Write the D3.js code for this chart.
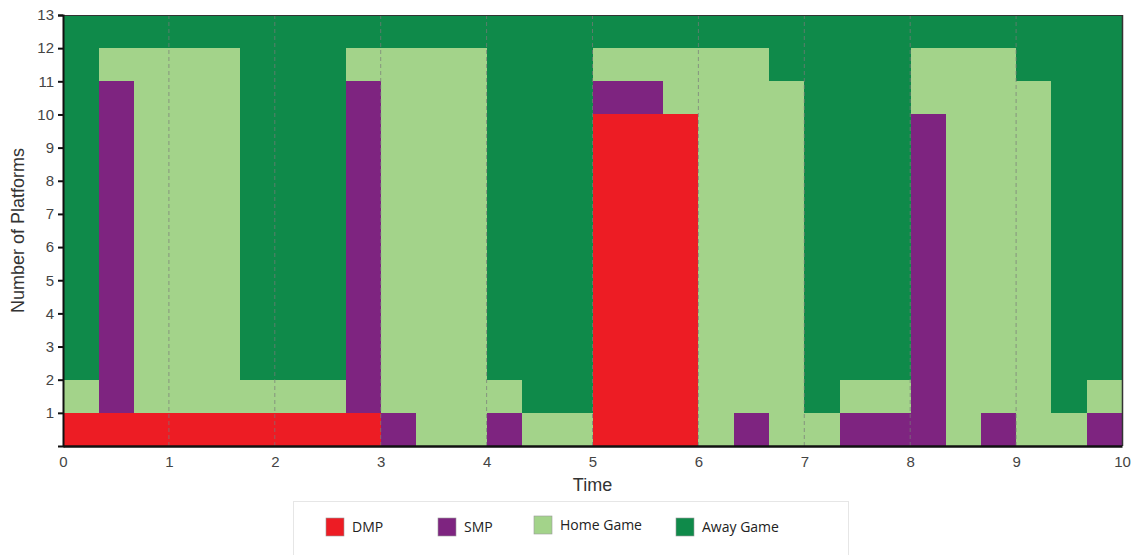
<!DOCTYPE html>
<html>
<head>
<meta charset="utf-8">
<script src="https://cdn.jsdelivr.net/npm/d3@7"></script>
<style>
  html, body { margin: 0; padding: 0; background: #fff; }
  svg { display: block; }
</style>
</head>
<body>
<svg id="chart" width="1136" height="555"></svg>
<script>
// Platform allocation per time slot (each slot is 1/3 of a time unit)
const slotsPerUnit = 3;
const dmp  = [1,1,1,1,1,1,1,1,1,0, 0,0,0,0,0,10,10,10,0,0, 0,0,0,0,0,0,0,0,0,0];
const smp  = [0,10,0,0,0,0,0,0,10,1, 0,0,1,0,0,1,1,0,0,1, 0,0,1,1,10,0,1,0,0,1];
const home = [1,1,11,11,11,1,1,1,1,11, 12,12,1,1,1,1,1,2,12,11, 11,1,1,1,2,12,11,11,1,1];
const totalPlatforms = 13;
const away = dmp.map((d, i) => totalPlatforms - d - smp[i] - home[i]);

const seriesNames = ["DMP", "SMP", "Home Game", "Away Game"];
const seriesColors = ["#ED1C24", "#7E2480", "#A3D38A", "#0F8A4A"];
const xTicks = [0,1,2,3,4,5,6,7,8,9,10];
const yTicks = [1,2,3,4,5,6,7,8,9,10,11,12,13];

const rows = dmp.map((d, i) => ({
  slot: i,
  "DMP": d, "SMP": smp[i], "Home Game": home[i], "Away Game": away[i]
}));

const svg = d3.select("#chart");
const margin = { left: 63, right: 1136 - 1122, top: 15, bottom: 555 - 446 };
const W = 1136 - margin.left - margin.right;
const H = 555 - margin.top - margin.bottom;

const x = d3.scaleLinear().domain([0, 10]).range([0, W]);
const y = d3.scaleLinear().domain([0, 13]).range([H, 0]);

const g = svg.append("g").attr("transform", `translate(${margin.left},${margin.top})`);

const stack = d3.stack().keys(seriesNames)(rows);

g.selectAll("g.layer")
  .data(stack)
  .join("g")
  .attr("class", "layer")
  .attr("fill", (d, i) => seriesColors[i])
  .selectAll("rect")
  .data(d => d)
  .join("rect")
  .attr("x", d => x(d.data.slot / slotsPerUnit))
  .attr("width", d => x((d.data.slot + 1) / slotsPerUnit) - x(d.data.slot / slotsPerUnit) + 0.5)
  .attr("y", d => y(d[1]))
  .attr("height", d => y(d[0]) - y(d[1]))
  .attr("shape-rendering", "crispEdges");

// dashed vertical guides at whole time units
g.selectAll("line.vgrid")
  .data(xTicks.filter(t => t > 0 && t < 10))
  .join("line")
  .attr("class", "vgrid")
  .attr("x1", d => x(d)).attr("x2", d => x(d))
  .attr("y1", 0).attr("y2", H)
  .attr("stroke", "#7a7a7a")
  .attr("stroke-width", 1)
  .attr("stroke-dasharray", "4,3")
  .attr("opacity", 0.7);

// frame: top and right
g.append("line").attr("x1", 0).attr("x2", W).attr("y1", 0.5).attr("y2", 0.5)
  .attr("stroke", "#333").attr("stroke-width", 1);
g.append("line").attr("x1", W + 0.5).attr("x2", W + 0.5).attr("y1", 0).attr("y2", H)
  .attr("stroke", "#333").attr("stroke-width", 1.5);

// y axis
const yAxis = g.append("g")
  .call(d3.axisLeft(y).tickValues(yTicks).tickSize(5).tickPadding(4));
yAxis.select(".domain").attr("stroke", "#111").attr("stroke-width", 2);
yAxis.selectAll(".tick line").attr("stroke", "#111").attr("stroke-width", 2);
yAxis.selectAll("text")
  .attr("font-family", "Liberation Sans, Arial, sans-serif")
  .attr("font-size", 15).attr("fill", "#444");

// x axis
const xAxis = g.append("g")
  .attr("transform", `translate(0,${H})`)
  .call(d3.axisBottom(x).tickValues(xTicks).tickSize(0).tickPadding(10));
xAxis.select(".domain").attr("stroke", "#111").attr("stroke-width", 2.5);
xAxis.selectAll("text")
  .attr("font-family", "Liberation Sans, Arial, sans-serif")
  .attr("font-size", 15).attr("fill", "#444");

// axis titles
svg.append("text")
  .attr("x", margin.left + W / 2)
  .attr("y", 491)
  .attr("text-anchor", "middle")
  .attr("font-family", "Liberation Sans, Arial, sans-serif")
  .attr("font-size", 18).attr("fill", "#333")
  .text("Time");

svg.append("text")
  .attr("transform", `translate(24,${margin.top + H / 2}) rotate(-90)`)
  .attr("text-anchor", "middle")
  .attr("font-family", "Liberation Sans, Arial, sans-serif")
  .attr("font-size", 18).attr("fill", "#333")
  .text("Number of Platforms");

// legend
const legend = svg.append("g");
legend.append("rect")
  .attr("x", 293.5).attr("y", 501.5)
  .attr("width", 555).attr("height", 70)
  .attr("fill", "#fff").attr("stroke", "#e6e6e6");

const legendX = [326, 438, 534, 676];
const legendDy = [0, 0, -2, 0];
const items = legend.selectAll("g.item")
  .data(seriesNames)
  .join("g")
  .attr("class", "item")
  .attr("transform", (d, i) => `translate(${legendX[i]},${518 + legendDy[i]})`);
items.append("rect")
  .attr("width", 18).attr("height", 18)
  .attr("fill", (d, i) => seriesColors[i])
  .attr("stroke", "#999").attr("stroke-width", 0.6);
items.append("text")
  .attr("x", 26).attr("y", 14)
  .attr("font-family", "Open Sans, Lato, sans-serif")
  .attr("font-size", 14).attr("fill", "#222")
  .text(d => d);
</script>
</body>
</html>
